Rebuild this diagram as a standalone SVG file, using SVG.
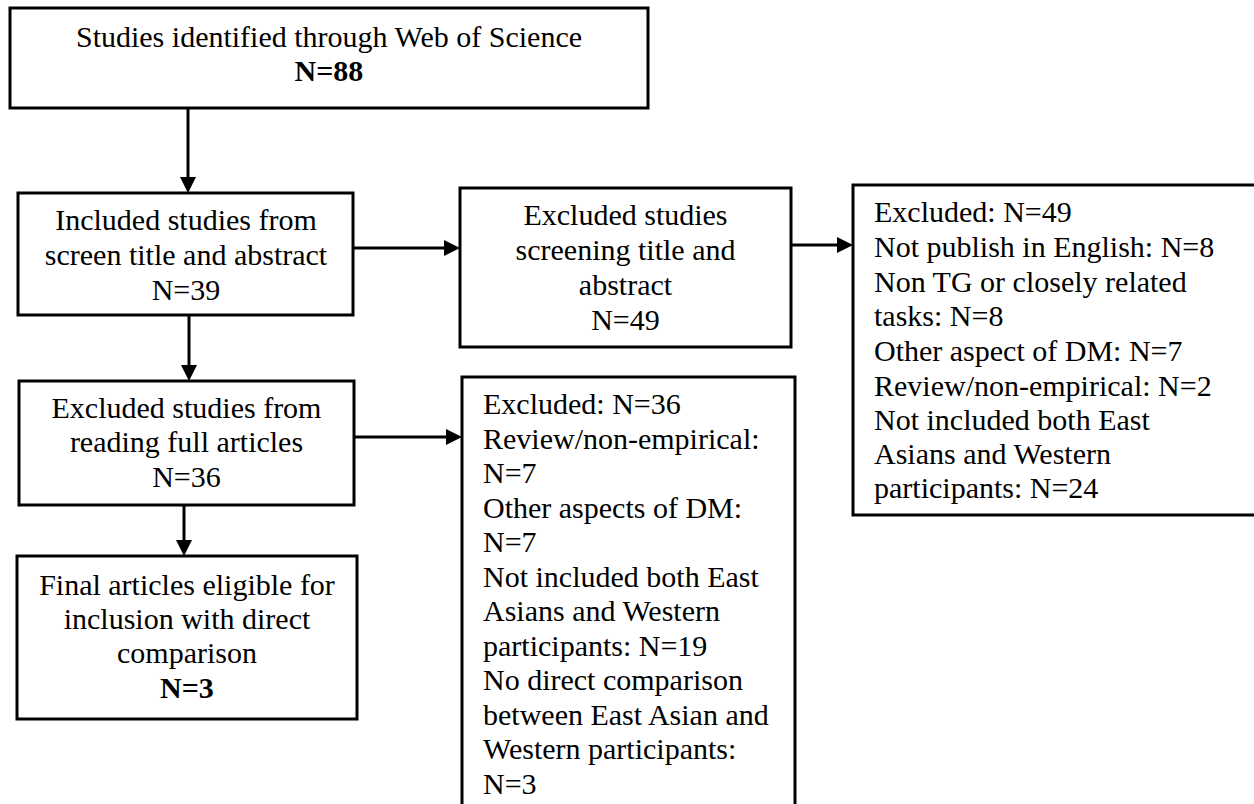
<svg xmlns="http://www.w3.org/2000/svg" width="1254" height="804" viewBox="0 0 1254 804">
  <defs>
    <style>
      .box { fill: #ffffff; stroke: #000000; stroke-width: 3; }
      .t { font-family: "Liberation Serif", "DejaVu Serif", serif; font-size: 30px; fill: #000000; }
      .c { text-anchor: middle; }
      .b { font-weight: bold; }
      .link { fill: none; stroke: #000000; stroke-width: 3; marker-end: url(#arrow); }
    </style>
    <marker id="arrow" markerUnits="userSpaceOnUse" markerWidth="16" markerHeight="16" refX="10" refY="8" orient="auto">
      <path d="M0,0 L16,8 L0,16 z" fill="#000000"/>
    </marker>
  </defs>
  <rect width="1254" height="804" fill="#ffffff"/>

  <!-- connectors -->
  <g id="connectors">
    <path class="link" d="M188,108 L188,187"/>
    <path class="link" d="M189,315 L189,375"/>
    <path class="link" d="M184,505 L184,550"/>
    <path class="link" d="M353,248 L454,248"/>
    <path class="link" d="M791,245 L847,245"/>
    <path class="link" d="M354,437 L456,437"/>
  </g>

  <g id="identified">
    <rect class="box" x="10" y="8" width="638" height="100"/>
    <text class="t c" x="329" y="47">Studies identified through Web of Science</text>
    <text class="t c b" x="329" y="81">N=88</text>
  </g>

  <g id="included-screen">
    <rect class="box" x="18" y="193" width="335" height="122"/>
    <text class="t c" x="186" y="230">Included studies from</text>
    <text class="t c" x="186" y="265">screen title and abstract</text>
    <text class="t c" x="186" y="300">N=39</text>
  </g>

  <g id="excluded-screen">
    <rect class="box" x="460" y="188" width="331" height="159"/>
    <text class="t c" x="625.5" y="225">Excluded studies</text>
    <text class="t c" x="625.5" y="260">screening title and</text>
    <text class="t c" x="625.5" y="295">abstract</text>
    <text class="t c" x="625.5" y="330">N=49</text>
  </g>

  <g id="excluded-screen-reasons">
    <rect class="box" x="853" y="185" width="410" height="330"/>
    <text class="t" x="874" y="222">Excluded: N=49</text>
    <text class="t" x="874" y="257">Not publish in English: N=8</text>
    <text class="t" x="874" y="292">Non TG or closely related</text>
    <text class="t" x="874" y="326">tasks: N=8</text>
    <text class="t" x="874" y="361">Other aspect of DM: N=7</text>
    <text class="t" x="874" y="396">Review/non-empirical: N=2</text>
    <text class="t" x="874" y="430">Not included both East</text>
    <text class="t" x="874" y="464">Asians and Western</text>
    <text class="t" x="874" y="498">participants: N=24</text>
  </g>

  <g id="excluded-full">
    <rect class="box" x="19" y="381" width="335" height="124"/>
    <text class="t c" x="186.5" y="418">Excluded studies from</text>
    <text class="t c" x="186.5" y="452">reading full articles</text>
    <text class="t c" x="186.5" y="487">N=36</text>
  </g>

  <g id="excluded-full-reasons">
    <rect class="box" x="462" y="377" width="333" height="440"/>
    <text class="t" x="483" y="414">Excluded: N=36</text>
    <text class="t" x="483" y="449">Review/non-empirical:</text>
    <text class="t" x="483" y="483">N=7</text>
    <text class="t" x="483" y="518">Other aspects of DM:</text>
    <text class="t" x="483" y="552">N=7</text>
    <text class="t" x="483" y="587">Not included both East</text>
    <text class="t" x="483" y="621">Asians and Western</text>
    <text class="t" x="483" y="656">participants: N=19</text>
    <text class="t" x="483" y="690">No direct comparison</text>
    <text class="t" x="483" y="725">between East Asian and</text>
    <text class="t" x="483" y="759">Western participants:</text>
    <text class="t" x="483" y="794">N=3</text>
  </g>

  <g id="final">
    <rect class="box" x="17" y="556" width="340" height="163"/>
    <text class="t c" x="187" y="595">Final articles eligible for</text>
    <text class="t c" x="187" y="629">inclusion with direct</text>
    <text class="t c" x="187" y="663">comparison</text>
    <text class="t c b" x="187" y="698">N=3</text>
  </g>
</svg>
